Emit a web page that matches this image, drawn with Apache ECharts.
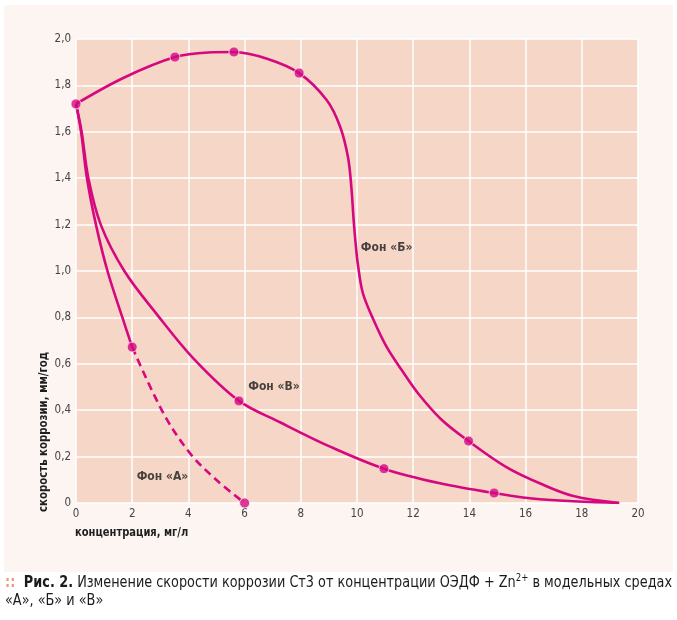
<!DOCTYPE html>
<html><head><meta charset="utf-8">
<script src="https://cdn.jsdelivr.net/npm/echarts@6/dist/echarts.min.js"></script>
<style>
html,body{margin:0;padding:0;background:#fff;}
#wrap{position:relative;width:677px;height:620px;overflow:hidden;}
#panel{position:absolute;left:4px;top:5px;width:669px;height:567px;background:#fcf5f2;}
#chart{position:absolute;left:0;top:0;width:677px;height:620px;}
#cap{position:absolute;left:5px;top:573px;font-family:'Liberation Sans Narrow','DejaVu Sans Condensed',sans-serif;font-size:15px;line-height:18px;color:#1b1b1b;white-space:nowrap;transform-origin:0 0;}
#cap .dots{color:#ec9c80;font-weight:bold;margin-right:9px;}
#cap sup{font-size:10px;vertical-align:6px;line-height:0;}
</style></head>
<body><div id="wrap"><div id="panel"></div><div id="chart"></div>
<div id="cap"><span id="l1"><span class="dots">::</span><b>Рис. 2.</b> Изменение скорости коррозии Ст3 от концентрации ОЭДФ + Zn<sup>2+</sup> в модельных средах</span><br>«А», «Б» и «В»</div></div>
<script>
// Фон «Б»
const bX = [0, 1.7, 3.52, 4.7, 5.62, 6.8, 7.94, 8.92, 9.4, 9.68, 9.8, 9.88, 9.95, 10.03, 10.21, 10.59, 11.05, 11.59, 12.17, 13.0, 13.97, 15.3, 16.5, 17.7, 19.33];
const bY = [1.72, 1.833, 1.922, 1.942, 1.944, 1.915, 1.853, 1.737, 1.622, 1.49, 1.36, 1.22, 1.12, 1.03, 0.904, 0.789, 0.674, 0.573, 0.473, 0.36, 0.267, 0.156, 0.085, 0.030, 0];
const bMarkX = [0, 3.52, 5.62, 7.94, 13.97];
const bMarkY = [1.72, 1.922, 1.944, 1.853, 0.267];
// Фон «В»
const vX = [0, 0.2, 0.44, 0.88, 1.72, 2.9, 4.2, 5.8, 7.26, 9.04, 10.96, 12.95, 14.88, 16.51, 19.33];
const vY = [1.72, 1.6, 1.4, 1.2, 1.0, 0.81, 0.62, 0.44, 0.348, 0.243, 0.148, 0.085, 0.043, 0.016, 0];
const vMarkX = [5.8, 10.96, 14.88];
const vMarkY = [0.44, 0.148, 0.043];
// Фон «А» (solid part, dashed part)
const aX = [0, 0.18, 0.39, 0.71, 1.12, 1.65, 2.0];
const aY = [1.72, 1.6, 1.4, 1.2, 1.0, 0.8, 0.672];
const aDashX = [2.0, 3.11, 4.06, 5.0, 6.0];
const aDashY = [0.672, 0.387, 0.214, 0.099, 0];
const aMarkX = [2.0, 6.0];
const aMarkY = [0.672, 0];
// axes
const xTicks = [0, 2, 4, 6, 8, 10, 12, 14, 16, 18, 20];
const yTicks = [0, 0.2, 0.4, 0.6, 0.8, 1.0, 1.2, 1.4, 1.6, 1.8, 2.0];
const labelText = ['Фон «Б»', 'Фон «В»', 'Фон «А»'];
const labelX = [10.12, 6.11, 2.14];
const labelY = [1.10, 0.5, 0.112];

// fit caption first line to the panel width
(function () {
  const cap = document.getElementById('cap');
  const w = document.getElementById('l1').getBoundingClientRect().width;
  const s = Math.min(1, 667 / w);
  cap.style.transform = 'scaleX(' + s + ')';
})();

const zip = (xs, ys) => xs.map((x, i) => [x, ys[i]]);
const C = '#d5087f';
const FONT = "'Liberation Sans Narrow','DejaVu Sans Condensed',sans-serif";
const fmt = v => v === 0 ? '0' : v.toFixed(1).replace('.', ',');
const lineS = (data, dashed) => ({
  type: 'line', data, smooth: 0.35, showSymbol: false, symbol: 'none',
  lineStyle: {color: C, width: 2.6, type: dashed ? [8, 5] : 'solid', cap: 'butt'},
  z: 3, silent: true
});
const markS = (data) => ({
  type: 'scatter', data, symbol: 'circle', symbolSize: 10,
  itemStyle: {color: C, borderColor: '#fbe3ea', borderWidth: 1}, z: 5, silent: true
});

const chart = echarts.init(document.getElementById('chart'), null, {renderer: 'canvas'});
chart.setOption({
  backgroundColor: 'transparent',
  animation: false,
  grid: {left: 76, right: 39, top: 39, bottom: 117, show: true, backgroundColor: '#f6d6c6', borderWidth: 0},
  xAxis: {
    type: 'value', min: xTicks[0], max: xTicks[xTicks.length - 1], interval: 2,
    axisLine: {show: false}, axisTick: {show: false},
    splitLine: {show: true, lineStyle: {color: '#ffffff', width: 1.5}},
    axisLabel: {color: '#444', fontSize: 11.5, fontFamily: FONT, margin: 5, formatter: v => String(v)}
  },
  yAxis: {
    type: 'value', min: yTicks[0], max: yTicks[yTicks.length - 1], interval: 0.2,
    axisLine: {show: false}, axisTick: {show: false},
    splitLine: {show: true, lineStyle: {color: '#ffffff', width: 1.5}},
    axisLabel: {color: '#444', fontSize: 11.5, fontFamily: FONT, margin: 5, formatter: fmt}
  },
  series: [
    lineS(zip(bX, bY)), lineS(zip(vX, vY)), lineS(zip(aX, aY)), lineS(zip(aDashX, aDashY), true),
    markS(zip(bMarkX, bMarkY)), markS(zip(vMarkX, vMarkY)), markS(zip(aMarkX, aMarkY)),
    {
      type: 'scatter', symbol: 'circle', symbolSize: 1, silent: true, z: 6,
      itemStyle: {color: 'rgba(0,0,0,0)'},
      data: labelText.map((t, i) => ({value: [labelX[i], labelY[i]], name: t})),
      label: {show: true, position: 'right', distance: 0, formatter: p => p.name,
        color: '#1a1a1a', fontWeight: 'bold', fontSize: 12, fontFamily: FONT}
    }
  ],
  graphic: [
    {type: 'text', x: 75, y: 533, scaleX: 0.85, silent: true,
      style: {text: 'концентрация, мг/л', fill: '#1e1e1e', font: "bold 13px " + FONT, textAlign: 'left', textVerticalAlign: 'middle'}},
    {type: 'text', x: 44, y: 512, rotation: Math.PI / 2, scaleX: 0.87, silent: true,
      style: {text: 'скорость коррозии, мм/год', fill: '#1e1e1e', font: "bold 13px " + FONT, textAlign: 'left', textVerticalAlign: 'middle'}}
  ]
});
</script></body></html>
